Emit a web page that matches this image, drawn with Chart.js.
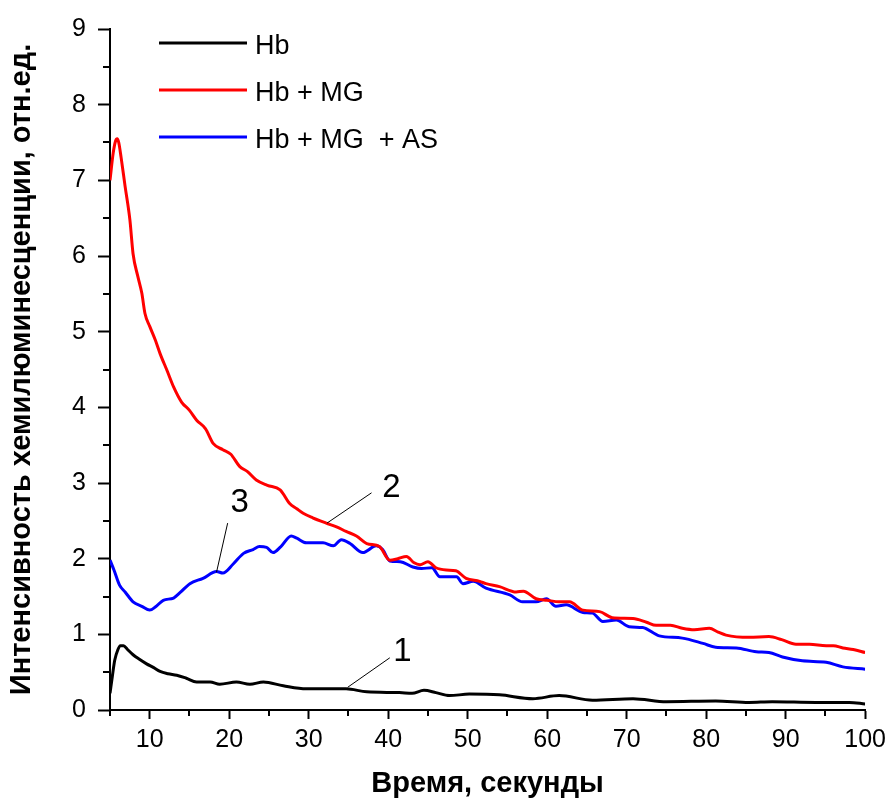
<!DOCTYPE html>
<html>
<head>
<meta charset="utf-8">
<script src="https://cdn.jsdelivr.net/npm/chart.js@4.4.0/dist/chart.umd.min.js"></script>
<style>
	body { margin: 0; background: #fff; }
	canvas { display: block; }
</style>
</head>
<body>
<canvas id="chart" width="892" height="801"></canvas>
<script>
// Hb
const hbTime = [5, 5.3, 5.6, 6.0, 6.3, 6.7, 7.2, 7.9, 8.7, 9.6, 10.5, 11.3, 12.3, 13.4, 14.6, 15.9, 17.6, 18.8, 20.9, 22.6, 24.3, 26.8, 29.7, 34.7, 37.3, 41.4, 43.0, 44.5, 46.0, 47.7, 50.2, 54.0, 58.2, 61.5, 65.7, 70.8, 75.0, 81.2, 85.4, 88.3, 93.8, 98.0, 100];
const hbValues = [0.22, 0.45, 0.66, 0.80, 0.85, 0.85, 0.80, 0.73, 0.67, 0.61, 0.56, 0.51, 0.48, 0.46, 0.42, 0.37, 0.37, 0.34, 0.37, 0.34, 0.37, 0.32, 0.28, 0.28, 0.24, 0.23, 0.22, 0.26, 0.23, 0.19, 0.21, 0.20, 0.15, 0.19, 0.13, 0.15, 0.11, 0.12, 0.10, 0.11, 0.10, 0.10, 0.08];

// Hb + MG
const hbMgTime = [5, 5.4, 5.7, 5.9, 6.1, 6.4, 6.9, 7.5, 7.9, 8.5, 9.0, 9.4, 10.0, 10.7, 11.3, 12.2, 13.0, 14.0, 15.0, 15.9, 17.0, 18.0, 19.2, 20.2, 21.3, 22.3, 23.4, 24.8, 26.4, 27.6, 28.5, 29.3, 30.5, 32.2, 33.5, 34.7, 36.0, 37.3, 38.9, 40.2, 41.2, 42.3, 43.2, 44.0, 45.0, 46.0, 47.3, 48.5, 49.8, 51.5, 52.3, 54.0, 56.1, 57.0, 58.6, 60.0, 61.5, 62.8, 64.5, 66.6, 68.2, 70.8, 72.5, 73.7, 75.5, 77.0, 78.5, 80.4, 81.5, 82.5, 85.4, 87.9, 89.5, 91.3, 93.0, 95.1, 96.0, 97.2, 98.5, 100];
const hbMgValues = [7.0, 7.36, 7.52, 7.55, 7.5, 7.3, 6.92, 6.48, 6.03, 5.73, 5.51, 5.24, 5.07, 4.89, 4.71, 4.48, 4.27, 4.07, 3.96, 3.83, 3.72, 3.52, 3.44, 3.38, 3.22, 3.15, 3.04, 2.97, 2.91, 2.73, 2.66, 2.60, 2.54, 2.47, 2.42, 2.36, 2.30, 2.20, 2.16, 1.98, 2.00, 2.03, 1.95, 1.92, 1.96, 1.88, 1.85, 1.84, 1.74, 1.70, 1.67, 1.63, 1.56, 1.57, 1.47, 1.45, 1.43, 1.43, 1.32, 1.30, 1.22, 1.21, 1.16, 1.12, 1.12, 1.08, 1.06, 1.08, 1.03, 0.99, 0.96, 0.97, 0.93, 0.87, 0.87, 0.85, 0.85, 0.82, 0.80, 0.76];

// Hb + MG + AS
const hbMgAsTime = [5, 5.5, 6.2, 6.9, 7.9, 9.0, 10.0, 10.7, 11.7, 13.0, 13.8, 15.05, 16.7, 18.4, 19.2, 20.5, 21.8, 23.0, 23.8, 24.7, 25.5, 26.5, 27.8, 28.5, 29.7, 31.8, 33.1, 34.1, 35.2, 36.8, 38.5, 39.3, 40.2, 41.5, 43.1, 44.2, 45.5, 46.5, 48.6, 49.4, 50.7, 52.3, 55.3, 56.9, 58.6, 59.9, 61.1, 62.4, 64.5, 65.7, 67.0, 68.7, 70.3, 72.0, 74.1, 77.0, 79.6, 81.2, 83.8, 86.3, 87.9, 89.6, 92.1, 95.1, 97.2, 100];
const hbMgAsValues = [1.98, 1.85, 1.65, 1.56, 1.43, 1.37, 1.32, 1.36, 1.45, 1.48, 1.55, 1.67, 1.74, 1.83, 1.81, 1.93, 2.07, 2.12, 2.16, 2.15, 2.08, 2.16, 2.30, 2.27, 2.21, 2.21, 2.17, 2.25, 2.20, 2.08, 2.17, 2.12, 1.97, 1.96, 1.89, 1.87, 1.88, 1.76, 1.76, 1.67, 1.70, 1.61, 1.52, 1.43, 1.43, 1.47, 1.37, 1.39, 1.29, 1.28, 1.17, 1.19, 1.10, 1.09, 0.98, 0.95, 0.88, 0.83, 0.82, 0.77, 0.76, 0.70, 0.65, 0.63, 0.57, 0.54];

const seriesLabels = ["Hb", "Hb + MG", "Hb + MG  + AS"];
const seriesColors = ["#000000", "#ff0000", "#0000ff"];

// curve numbers: label position and leader line (data coords)
const curveNumbers = ["1", "2", "3"];
const numberAt = [[41.8, 0.77], [40.4, 2.93], [21.3, 2.74]];
const leaderFrom = [[34.9, 0.30], [32.3, 2.47], [18.4, 1.82]];
const leaderTo = [[40.2, 0.69], [37.9, 2.87], [19.8, 2.47]];

const FONT = "'Liberation Sans', Arial, sans-serif";

const toPoints = (xs, ys) => xs.map((x, i) => ({ x: x, y: ys[i] }));

const series = [
	toPoints(hbTime, hbValues),
	toPoints(hbMgTime, hbMgValues),
	toPoints(hbMgAsTime, hbMgAsValues),
];

const isMajorX = (v) => Math.abs(v % 10) < 1e-6;
const isMajorY = (v) => Math.abs(v - Math.round(v)) < 1e-6;

// short ticks between the labelled ones
const minorTicks = {
	id: "minorTicks",
	afterDraw(chart) {
		const ctx = chart.ctx;
		const xs = chart.scales.x;
		const ys = chart.scales.y;
		ctx.save();
		ctx.strokeStyle = "#000";
		ctx.lineWidth = 2;
		ctx.beginPath();
		xs.ticks.forEach((t) => {
			if (isMajorX(t.value)) return;
			const px = Math.round(xs.getPixelForValue(t.value));
			ctx.moveTo(px, xs.top);
			ctx.lineTo(px, xs.top + 6);
		});
		ys.ticks.forEach((t) => {
			if (isMajorY(t.value)) return;
			const py = Math.round(ys.getPixelForValue(t.value));
			ctx.moveTo(ys.right, py);
			ctx.lineTo(ys.right - 7, py);
		});
		ctx.stroke();
		ctx.restore();
	},
};

const insideLegend = {
	id: "insideLegend",
	afterDraw(chart) {
		const ctx = chart.ctx;
		ctx.save();
		ctx.font = "27px " + FONT;
		ctx.textBaseline = "middle";
		chart.data.datasets.forEach((ds, i) => {
			const y = 43 + i * 47;
			ctx.strokeStyle = ds.borderColor;
			ctx.lineWidth = 3;
			ctx.beginPath();
			ctx.moveTo(159, y);
			ctx.lineTo(247, y);
			ctx.stroke();
			ctx.fillStyle = "#000";
			ctx.fillText(ds.label, 255, y + 4);
		});
		ctx.restore();
	},
};

const numberLabels = {
	id: "numberLabels",
	afterDatasetsDraw(chart) {
		const ctx = chart.ctx;
		const xs = chart.scales.x;
		const ys = chart.scales.y;
		ctx.save();
		ctx.strokeStyle = "#000";
		ctx.lineWidth = 1;
		ctx.fillStyle = "#000";
		ctx.font = "33px " + FONT;
		ctx.textAlign = "center";
		ctx.textBaseline = "middle";
		curveNumbers.forEach((txt, i) => {
			ctx.beginPath();
			ctx.moveTo(xs.getPixelForValue(leaderFrom[i][0]), ys.getPixelForValue(leaderFrom[i][1]));
			ctx.lineTo(xs.getPixelForValue(leaderTo[i][0]), ys.getPixelForValue(leaderTo[i][1]));
			ctx.stroke();
			ctx.fillText(txt, xs.getPixelForValue(numberAt[i][0]), ys.getPixelForValue(numberAt[i][1]));
		});
		ctx.restore();
	},
};

new Chart(document.getElementById("chart").getContext("2d"), {
	type: "line",
	data: {
		datasets: series.map((pts, i) => ({
			label: seriesLabels[i],
			data: pts,
			borderColor: seriesColors[i],
			borderWidth: 3,
			pointRadius: 0,
			cubicInterpolationMode: "monotone",
			fill: false,
		})),
	},
	options: {
		responsive: false,
		animation: false,
		layout: { padding: { top: 29, right: 26, bottom: 0, left: 0 } },
		plugins: {
			legend: { display: false },
			tooltip: { enabled: false },
		},
		scales: {
			x: {
				type: "linear",
				min: 5,
				max: 100,
				afterFit: (scale) => { scale.height = 91; },
				border: { display: true, color: "#000", width: 2 },
				grid: {
					drawOnChartArea: false,
					tickLength: 9,
					tickWidth: 2,
					tickColor: (c) => (c.tick && isMajorX(c.tick.value) ? "#000" : "rgba(0,0,0,0)"),
				},
				ticks: {
					stepSize: 5,
					autoSkip: false,
					maxRotation: 0,
					padding: 6,
					color: "#000",
					font: { family: FONT, size: 25 },
					callback: (v) => (isMajorX(v) ? v : ""),
				},
				title: {
					display: true,
					text: "Время, секунды",
					color: "#000",
					font: { family: FONT, size: 29, weight: "bold" },
					padding: { top: 0, bottom: 0 },
				},
			},
			y: {
				min: 0,
				max: 9,
				afterFit: (scale) => { scale.width = 110; },
				border: { display: true, color: "#000", width: 2 },
				grid: {
					drawOnChartArea: false,
					tickLength: 12,
					tickWidth: 2,
					tickColor: (c) => (c.tick && isMajorY(c.tick.value) ? "#000" : "rgba(0,0,0,0)"),
				},
				ticks: {
					stepSize: 0.5,
					autoSkip: false,
					padding: 12,
					color: "#000",
					font: { family: FONT, size: 25 },
					callback: (v) => (isMajorY(v) ? v : ""),
				},
				title: {
					display: true,
					text: "Интенсивность хемилюминесценции, отн.ед.",
					color: "#000",
					font: { family: FONT, size: 29, weight: "bold" },
					padding: { top: 5, bottom: 0 },
				},
			},
		},
	},
	plugins: [minorTicks, insideLegend, numberLabels],
});
</script>
</body>
</html>
